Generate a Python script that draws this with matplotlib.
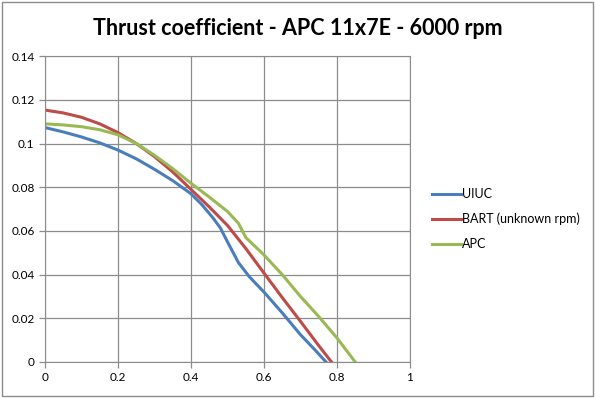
import matplotlib

matplotlib.use("Agg")
import matplotlib.pyplot as plt

# advance ratio / thrust coefficient
uiuc_j = [0.0, 0.05, 0.1, 0.15, 0.2, 0.25, 0.3, 0.35, 0.4, 0.43, 0.46, 0.48, 0.5, 0.53, 0.56, 0.6, 0.65, 0.7, 0.74, 0.77]
uiuc_ct = [0.1073, 0.1053, 0.1030, 0.1003, 0.0970, 0.0930, 0.0882, 0.0830, 0.0770, 0.0720, 0.0660, 0.0615, 0.0550, 0.0455, 0.0390, 0.0320, 0.0225, 0.0125, 0.0055, 0.0]

bart_j = [0.0, 0.05, 0.1, 0.15, 0.2, 0.25, 0.3, 0.35, 0.4, 0.45, 0.5, 0.55, 0.6, 0.65, 0.7, 0.75, 0.785]
bart_ct = [0.1153, 0.1140, 0.1120, 0.1090, 0.1050, 0.1000, 0.0940, 0.0870, 0.0790, 0.0710, 0.0625, 0.0520, 0.0407, 0.0295, 0.0186, 0.0075, 0.0]

apc_j = [0.0, 0.05, 0.1, 0.15, 0.2, 0.25, 0.3, 0.35, 0.4, 0.45, 0.5, 0.53, 0.55, 0.6, 0.65, 0.7, 0.75, 0.8, 0.85]
apc_ct = [0.1090, 0.1085, 0.1077, 0.1063, 0.1040, 0.1000, 0.0946, 0.0885, 0.0818, 0.0755, 0.0689, 0.0635, 0.0570, 0.0490, 0.0400, 0.0300, 0.0208, 0.0110, 0.0]

series = [
    ("UIUC", uiuc_j, uiuc_ct, "#4A7EBB"),
    ("BART (unknown rpm)", bart_j, bart_ct, "#BE4B48"),
    ("APC", apc_j, apc_ct, "#98B954"),
]

plt.rcParams["font.family"] = ["Lato", "DejaVu Sans"]

fig = plt.figure(figsize=(5.95, 3.98), dpi=100)
ax = fig.add_axes([0.0756, 0.0905, 0.6134, 0.7685])

for label, j, ct, color in series:
    ax.plot(j, ct, color=color, lw=2.2, label=label, solid_joinstyle="round")

ax.set_xlim(0, 1)
ax.set_ylim(0, 0.14)
ax.set_xticks([0, 0.2, 0.4, 0.6, 0.8, 1])
ax.set_xticklabels(["0", "0.2", "0.4", "0.6", "0.8", "1"])
ax.set_yticks([0, 0.02, 0.04, 0.06, 0.08, 0.1, 0.12, 0.14])
ax.set_yticklabels(["0", "0.02", "0.04", "0.06", "0.08", "0.1", "0.12", "0.14"])
ax.grid(True, color="#8c8c8c", lw=0.9)
ax.set_axisbelow(True)
for s in ax.spines.values():
    s.set_color("#8c8c8c")
ax.tick_params(colors="#8c8c8c", labelcolor="black", labelsize=8.5, length=4, width=0.9)

fig.suptitle("Thrust coefficient - APC 11x7E - 6000 rpm", x=0.5, y=0.955,
             fontsize=15.5, fontweight="bold")

ax.legend(loc="center left", bbox_to_anchor=(1.03, 0.467), frameon=False,
          fontsize=9, handlelength=2.3, handletextpad=0.1, labelspacing=1.0)

# outer chart border like the spreadsheet export
fig.patches.append(plt.Rectangle((0.003, 0.004), 0.994, 0.992, transform=fig.transFigure,
                                 fill=False, edgecolor="#8c8c8c", lw=1.0))

fig.savefig("out.png", dpi=100)
